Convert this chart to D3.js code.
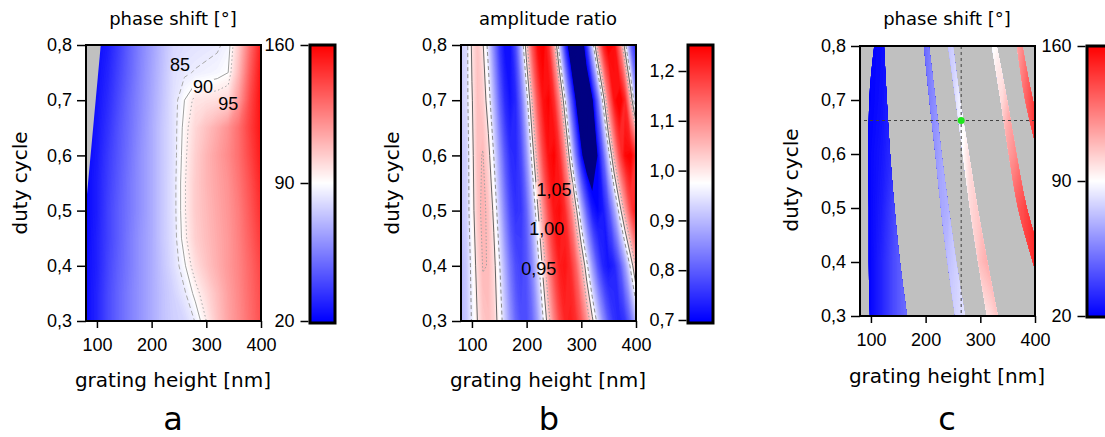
<!DOCTYPE html>
<html>
<head>
<meta charset="utf-8">
<script src="https://cdn.jsdelivr.net/npm/d3@7"></script>
<style>
  body { margin: 0; background: #fff; }
</style>
</head>
<body>
<svg id="fig" width="1105" height="437"></svg>
<script>
// ---- data ----
const xTicks = [100, 200, 300, 400];
const yTicks = [0.3, 0.4, 0.5, 0.6, 0.7, 0.8];
const phaseTicks = [20, 90, 160];
const ratioTicks = [0.7, 0.8, 0.9, 1.0, 1.1, 1.2];

// panel a: phase shift [deg], grid every 20 nm x 0.05 duty cycle
const hA = [80, 100, 120, 140, 160, 180, 200, 220, 240, 260, 280, 300, 320, 340, 360, 380, 400];
const dcA = [0.30, 0.35, 0.40, 0.45, 0.50, 0.55, 0.60, 0.65, 0.70, 0.75, 0.80];
const phaseA = [
  [23, 30, 40, 48, 55, 61, 67, 73, 77, 79, 85.5, 95, 106, 115, 122, 130, 138],
  [23, 30, 40, 48, 55, 61, 67, 73, 78, 84, 92, 100, 108, 116, 123, 131, 139],
  [23, 29, 39, 47, 54, 61, 67, 74, 81, 89, 99, 106, 112, 118, 124, 132, 141],
  [22, 29, 38, 46, 54, 61, 67, 75, 82, 93, 103, 108, 113, 118, 125, 134, 144],
  [22, 28, 38, 46, 53, 60, 67, 75, 82.5, 94, 104, 109, 114, 119, 126, 136, 147],
  [22, 28, 37, 45, 53, 60, 67, 75, 82.5, 94, 104, 110, 115, 120, 128, 138, 150],
  [22, 27, 36, 44, 52, 60, 67, 75, 82, 93, 103, 110, 116, 122, 130, 141, 153],
  [22, 26, 34, 43, 51, 59, 67, 75, 82, 92, 101, 107, 113, 120, 130, 143, 155],
  [22, 25, 32, 41, 50, 58, 66, 74, 82, 90, 97, 98, 99, 101, 118, 140, 156],
  [22, 24, 30, 39, 48, 57, 65, 73, 81, 84, 85.5, 86.5, 87.5, 90, 110, 135, 155],
  [22, 23, 28, 37, 47, 56, 64, 72, 79, 81, 82, 83, 84, 87, 105, 130, 152]
];
const maskA = [[80, 0.51], [107, 0.8], [80, 0.8]];
const levelsA = [85, 90, 95];
const labelsA = [
  { text: "85", h: 252, dc: 0.764 },
  { text: "90", h: 294, dc: 0.724 },
  { text: "95", h: 340, dc: 0.693 }
];

// panel b: amplitude ratio, grid every 10 nm x 0.1 duty cycle
const hB = [80, 90, 100, 110, 120, 130, 140, 150, 160, 170, 180, 190, 200, 210, 220, 230, 240,
  250, 260, 270, 280, 290, 300, 310, 320, 330, 340, 350, 360, 370, 380, 390, 400];
const dcB = [0.3, 0.4, 0.5, 0.6, 0.7, 0.8];
const ratioB = [
  [0.900, 0.915, 0.954, 1.000, 1.035, 1.044, 1.025, 0.981, 0.922, 0.862, 0.812, 0.784, 0.784, 0.814, 0.872, 0.946, 1.029,
   1.108, 1.172, 1.210, 1.220, 1.200, 1.155, 1.090, 1.012, 0.931, 0.855, 0.792, 0.753, 0.740, 0.759, 0.814, 0.898],
  [0.900, 0.916, 0.963, 1.018, 1.052, 1.049, 1.015, 0.957, 0.889, 0.826, 0.783, 0.770, 0.792, 0.845, 0.924, 1.014, 1.102,
   1.173, 1.219, 1.229, 1.203, 1.145, 1.061, 0.965, 0.870, 0.791, 0.739, 0.720, 0.738, 0.789, 0.867, 0.960, 1.057],
  [0.911, 0.926, 0.979, 1.036, 1.060, 1.041, 0.990, 0.916, 0.841, 0.781, 0.752, 0.760, 0.809, 0.891, 0.990, 1.089, 1.173,
   1.227, 1.239, 1.204, 1.126, 1.019, 0.902, 0.802, 0.729, 0.705, 0.725, 0.783, 0.869, 0.972, 1.076, 1.169, 1.232],
  [0.915, 0.925, 0.986, 1.043, 1.052, 1.016, 0.949, 0.869, 0.796, 0.750, 0.742, 0.780, 0.861, 0.967, 1.078, 1.174, 1.234,
   1.249, 1.204, 1.102, 0.966, 0.828, 0.713, 0.649, 0.647, 0.702, 0.802, 0.930, 1.062, 1.172, 1.242, 1.258, 1.196],
  [0.925, 0.934, 0.996, 1.043, 1.030, 0.976, 0.895, 0.811, 0.747, 0.720, 0.743, 0.819, 0.929, 1.053, 1.161, 1.231, 1.249,
   1.203, 1.098, 0.959, 0.814, 0.694, 0.622, 0.616, 0.685, 0.814, 0.972, 1.123, 1.230, 1.270, 1.208, 1.051, 0.872],
  [0.925, 0.933, 1.008, 1.039, 1.005, 0.933, 0.844, 0.763, 0.716, 0.718, 0.783, 0.898, 1.033, 1.156, 1.238, 1.258, 1.201,
   1.075, 0.913, 0.755, 0.642, 0.600, 0.642, 0.757, 0.918, 1.082, 1.210, 1.268, 1.240, 1.128, 0.971, 0.820, 0.730]
];
const levelsB = [0.95, 1.0, 1.05];
const labelsB = [
  { text: "1,05", h: 250, dc: 0.537 },
  { text: "1,00", h: 237, dc: 0.466 },
  { text: "0,95", h: 222, dc: 0.395 }
];

// panel c: phase shift [deg] shown only inside the allowed bands
const hC = [80, 100, 120, 140, 160, 180, 200, 220, 240, 260, 280, 300, 320, 340, 360, 380, 400];
const dcC = [0.3, 0.4, 0.5, 0.6, 0.7, 0.8];
const phaseC = [
  [20, 22, 30, 40, 48, 56, 64, 70, 75, 79, 85, 95, 100, 110, 120, 130, 140],
  [20, 22, 30, 40, 48, 55, 62, 68, 72, 78, 95, 108, 115, 125, 132, 140, 148],
  [20, 22, 28, 38, 48, 55, 60, 64, 68, 80, 100, 106, 115, 125, 132, 140, 150],
  [20, 22, 26, 33, 42, 50, 56, 62, 70, 85, 100, 105, 108, 112, 120, 130, 145],
  [20, 21, 24, 30, 38, 45, 52, 60, 72, 85, 93, 96, 98, 100, 115, 130, 145],
  [20, 21, 23, 28, 35, 42, 50, 62, 74, 80, 84, 86, 88, 95, 110, 125, 140]
];
const bandDcC = [0.3, 0.4, 0.5, 0.6, 0.7, 0.8];
const bandLeftC = [
  [98, 96, 96, 95, 97, 106],
  [254, 240, 228, 218, 207, 197],
  [312, 296, 281, 268, 255, 241],
  [425, 396, 369, 352, 337, 321],
  [470, 450, 425, 405, 382, 367]
];
const bandRightC = [
  [166, 153, 143, 135, 129, 124],
  [272, 256, 242, 229, 218, 206],
  [332, 313, 295, 279, 263, 250],
  [445, 414, 385, 366, 349, 330],
  [490, 470, 445, 420, 396, 377]
];
const markerC = { h: 265, dc: 0.662 };

// ---- setup ----
const svg = d3.select("#fig");
const defs = svg.append("defs");
const numFont = "'Liberation Sans', Arial, sans-serif";
const wordFont = "'DejaVu Sans', Verdana, sans-serif";
const locale = d3.formatLocale({ decimal: ",", thousands: ".", grouping: [3], currency: ["", ""] });
const fmt1 = locale.format(".1f");

const phaseColor = d3.scaleLinear().domain([20, 90, 160])
  .range(["#0000ff", "#ffffff", "#ff0000"]).clamp(true);
const ratioScale = d3.scaleLinear().domain([0.7, 0.975, 1.25])
  .range(["#0000ff", "#ffffff", "#ff0000"]).clamp(true);
const ratioColor = (v) => (v < 0.7 ? "#000082" : ratioScale(v));

const boxA = { x0: 86, x1: 261, y0: 45, y1: 321 };
const boxB = { x0: 461, x1: 636, y0: 45, y1: 321 };
const boxC = { x0: 860, x1: 1035, y0: 46, y1: 316 };

function scalesFor(box) {
  return {
    x: d3.scaleLinear().domain([80, 400]).range([box.x0, box.x1]),
    y: d3.scaleLinear().domain([0.3, 0.8]).range([box.y1, box.y0])
  };
}

function addClip(id, box) {
  defs.append("clipPath").attr("id", id).append("rect")
    .attr("x", box.x0).attr("y", box.y0)
    .attr("width", box.x1 - box.x0).attr("height", box.y1 - box.y0);
}

// contour coordinates (grid units) -> pixels
function gridPath(cols, rows, x, y) {
  const gx = d3.scaleLinear().domain([0.5, cols.length - 0.5])
    .range([x(cols[0]), x(cols[cols.length - 1])]);
  const gy = d3.scaleLinear().domain([0.5, rows.length - 0.5])
    .range([y(rows[0]), y(rows[rows.length - 1])]);
  return d3.geoPath(d3.geoTransform({
    point(px, py) { this.stream.point(gx(px), gy(py)); }
  }));
}

function drawField(g, cols, rows, grid, thresholds, step, color, x, y) {
  const path = gridPath(cols, rows, x, y);
  const bands = d3.contours().size([cols.length, rows.length])
    .thresholds(thresholds)(grid.flat());
  g.selectAll("path")
    .data(bands)
    .join("path")
    .attr("d", path)
    .attr("fill", (d) => color(d.value + step / 2));
}

function drawLevels(g, cols, rows, grid, levels, styles, x, y) {
  const path = gridPath(cols, rows, x, y);
  const gen = d3.contours().size([cols.length, rows.length]);
  const values = grid.flat();
  levels.forEach((lv, i) => {
    g.append("path")
      .attr("d", path(gen.contour(values, lv)))
      .attr("fill", "none")
      .attr("stroke", styles[i].color)
      .attr("stroke-width", 1)
      .attr("stroke-dasharray", styles[i].dash);
  });
}

function drawLabels(g, labels, x, y, maskId) {
  const mask = defs.append("mask").attr("id", maskId);
  mask.append("rect").attr("width", 1105).attr("height", 437).attr("fill", "#fff");
  labels.forEach((d) => {
    const t = g.append("text")
      .attr("x", x(d.h))
      .attr("y", y(d.dc) + 6)
      .attr("text-anchor", "middle")
      .style("font-family", numFont)
      .style("font-size", "18px")
      .attr("fill", "#000")
      .text(d.text);
    const b = t.node().getBBox();
    mask.append("rect")
      .attr("x", b.x - 1).attr("y", b.y + 2)
      .attr("width", b.width + 2).attr("height", b.height - 3)
      .attr("fill", "#000");
  });
}

function drawAxes(box, x, y) {
  const g = svg.append("g");
  g.append("g")
    .attr("transform", `translate(0,${box.y1})`)
    .call(d3.axisBottom(x).tickValues(xTicks).tickSize(7).tickPadding(10).tickSizeOuter(0));
  g.append("g")
    .attr("transform", `translate(${box.x0},0)`)
    .call(d3.axisLeft(y).tickValues(yTicks).tickFormat(fmt1).tickSize(9).tickPadding(5).tickSizeOuter(0));
  g.selectAll(".domain").remove();
  g.selectAll(".tick line").attr("stroke", "#000").attr("stroke-width", 1.5);
  g.selectAll(".tick text")
    .attr("fill", "#000")
    .style("font-family", numFont)
    .style("font-size", "18px");
  g.append("rect")
    .attr("x", box.x0).attr("y", box.y0)
    .attr("width", box.x1 - box.x0).attr("height", box.y1 - box.y0)
    .attr("fill", "none").attr("stroke", "#000").attr("stroke-width", 2);
}

function drawColorbar(bx, by0, by1, scale, color, ticks, fmt, pad) {
  const g = svg.append("g");
  g.selectAll("rect.cell")
    .data(d3.range(by0, by1, 1))
    .join("rect")
    .attr("class", "cell")
    .attr("x", bx).attr("y", (d) => d)
    .attr("width", 25).attr("height", 1.5)
    .attr("fill", (d) => color(scale.invert(d + 0.5)));
  g.append("rect")
    .attr("x", bx).attr("y", by0)
    .attr("width", 25).attr("height", by1 - by0)
    .attr("fill", "none").attr("stroke", "#000").attr("stroke-width", 3);
  const ax = g.append("g")
    .attr("transform", `translate(${bx - 1.5},0)`)
    .call(d3.axisLeft(scale).tickValues(ticks).tickFormat(fmt).tickSize(8).tickPadding(pad).tickSizeOuter(0));
  ax.select(".domain").remove();
  ax.selectAll(".tick line").attr("stroke", "#000").attr("stroke-width", 1.5);
  ax.selectAll(".tick text")
    .attr("fill", "#000")
    .style("font-family", numFont)
    .style("font-size", "18px");
}

function drawTexts(t) {
  const g = svg.append("g").attr("fill", "#000").style("font-family", wordFont);
  g.append("text").attr("x", t.cx).attr("y", 25).attr("text-anchor", "middle")
    .style("font-size", "18px").text(t.title);
  g.append("text").attr("x", t.cx).attr("y", t.xTitleY).attr("text-anchor", "middle")
    .style("font-size", "20px").text("grating height [nm]");
  g.append("text")
    .attr("transform", `translate(${t.yTitleX},${t.yTitleY}) rotate(-90)`)
    .attr("text-anchor", "middle")
    .style("font-size", "20px").text("duty cycle");
  g.append("text").attr("x", t.letterX).attr("y", 430).attr("text-anchor", "middle")
    .style("font-size", "32px").text(t.letter);
}

// ---- panel a ----
{
  const { x, y } = scalesFor(boxA);
  addClip("clipA", boxA);
  const g = svg.append("g").attr("clip-path", "url(#clipA)");
  drawField(g.append("g"), hA, dcA, phaseA, d3.range(20, 160, 1), 1, phaseColor, x, y);
  g.append("path")
    .attr("d", d3.line().x((d) => x(d[0])).y((d) => y(d[1]))(maskA) + "Z")
    .attr("fill", "#c0c0c0");
  const lines = g.append("g").attr("mask", "url(#maskLabelsA)");
  drawLevels(lines, hA, dcA, phaseA, levelsA, [
    { color: "#a8a8a8", dash: "5,3" },
    { color: "#a0a0a0", dash: null },
    { color: "#a8a8a8", dash: "1.5,2.5" }
  ], x, y);
  drawLabels(svg.append("g"), labelsA, x, y, "maskLabelsA");
  drawAxes(boxA, x, y);
  drawColorbar(310, 45, 323, d3.scaleLinear().domain([20, 160]).range([321, 45]),
    phaseColor, phaseTicks, d3.format("d"), 6);
  drawTexts({ cx: 173, title: "phase shift [°]", xTitleY: 387, yTitleX: 27, yTitleY: 183, letter: "a", letterX: 173 });
}

// ---- panel b ----
{
  const { x, y } = scalesFor(boxB);
  addClip("clipB", boxB);
  const g = svg.append("g").attr("clip-path", "url(#clipB)");
  drawField(g.append("g"), hB, dcB, ratioB, d3.range(0.55, 1.3, 0.005), 0.005, ratioColor, x, y);
  const lines = g.append("g").attr("mask", "url(#maskLabelsB)");
  drawLevels(lines, hB, dcB, ratioB, levelsB, [
    { color: "#8c8c8c", dash: "4,3" },
    { color: "#646464", dash: null },
    { color: "#a0a0a0", dash: "1.5,2" }
  ], x, y);
  drawLabels(svg.append("g"), labelsB, x, y, "maskLabelsB");
  drawAxes(boxB, x, y);
  drawColorbar(688, 45, 323, d3.scaleLinear().domain([0.7, 1.2]).range([320, 71]),
    ratioScale, ratioTicks, fmt1, 4);
  drawTexts({ cx: 548, title: "amplitude ratio", xTitleY: 387, yTitleX: 399, yTitleY: 183, letter: "b", letterX: 549 });
}

// ---- panel c ----
{
  const { x, y } = scalesFor(boxC);
  addClip("clipC", boxC);
  const g = svg.append("g").attr("clip-path", "url(#clipC)");
  g.append("rect")
    .attr("x", boxC.x0).attr("y", boxC.y0)
    .attr("width", boxC.x1 - boxC.x0).attr("height", boxC.y1 - boxC.y0)
    .attr("fill", "#c0c0c0");

  const bandArea = d3.area()
    .curve(d3.curveMonotoneY)
    .y((d) => y(d.dc))
    .x0((d) => x(d.left))
    .x1((d) => x(d.right));
  const bandClip = defs.append("clipPath").attr("id", "bandsC");
  bandLeftC.forEach((lefts, i) => {
    const pts = bandDcC.map((dc, j) => ({ dc, left: lefts[j], right: bandRightC[i][j] }));
    bandClip.append("path").attr("d", bandArea(pts));
  });
  const field = g.append("g").attr("clip-path", "url(#bandsC)");
  drawField(field, hC, dcC, phaseC, d3.range(15, 160, 1), 1, phaseColor, x, y);

  // cross-hair on the chosen design point
  g.append("line")
    .attr("x1", x(markerC.h)).attr("x2", x(markerC.h))
    .attr("y1", boxC.y0).attr("y2", boxC.y1)
    .attr("stroke", "#404040").attr("stroke-width", 1).attr("stroke-dasharray", "3,3");
  g.append("line")
    .attr("x1", boxC.x0 + 4).attr("x2", boxC.x1)
    .attr("y1", y(markerC.dc)).attr("y2", y(markerC.dc))
    .attr("stroke", "#404040").attr("stroke-width", 1).attr("stroke-dasharray", "3,3");
  g.append("circle")
    .attr("cx", x(markerC.h)).attr("cy", y(markerC.dc)).attr("r", 3.5)
    .attr("fill", "#1ee61e");

  drawAxes(boxC, x, y);
  drawColorbar(1087, 46, 317, d3.scaleLinear().domain([20, 160]).range([316, 46]),
    phaseColor, phaseTicks, d3.format("d"), 6);
  drawTexts({ cx: 947, title: "phase shift [°]", xTitleY: 383, yTitleX: 798, yTitleY: 180, letter: "c", letterX: 947 });
}
</script>
</body>
</html>
